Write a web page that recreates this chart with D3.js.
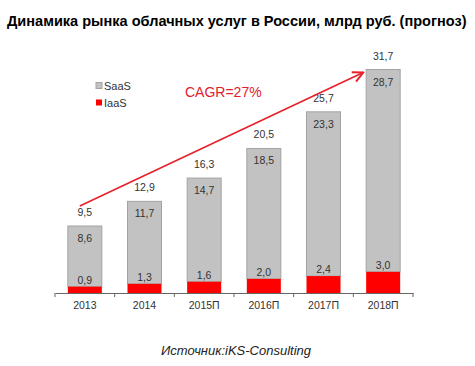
<!DOCTYPE html>
<html><head><meta charset="utf-8">
<script src="https://cdn.jsdelivr.net/npm/d3@7"></script>
<style>body{margin:0;background:#fff}svg{display:block}</style>
</head><body>
<svg id="c" width="475" height="366"></svg>
<script>
const categories = ["2013","2014","2015П","2016П","2017П","2018П"];
const saas = [8.6, 11.7, 14.7, 18.5, 23.3, 28.7];
const iaas = [0.9, 1.3, 1.6, 2.0, 2.4, 3.0];
const totals = [9.5, 12.9, 16.3, 20.5, 25.7, 31.7];
const seriesNames = ["SaaS","IaaS"];
const title = "Динамика рынка облачных услуг в России, млрд руб. (прогноз)";
const source = "Источник:iKS-Consulting";
const cagr = "CAGR=27%";

const fmt = v => d3.format(".1f")(v).replace(".", ",");
const svg = d3.select("#c");
const font = "'Liberation Sans', Arial, sans-serif";
const grey = "#c2c2c2", greyStroke = "#a3a3a3", red = "#ff0000";

const x = d3.scaleBand().domain(categories).range([55, 413]).paddingInner(0.43).paddingOuter(0.215);
const y = d3.scaleLinear().domain([0, 32]).range([293, 67.4]);

const tg = svg.append("g");
const tt = tg.append("text").attr("x", 0).attr("y", 0)
  .attr("font-family", font).attr("font-weight", "bold").attr("font-size", 15.5)
  .attr("fill", "#000").text(title);
const natural = tt.node().getComputedTextLength();
tg.attr("transform", `translate(7,25.5) scale(${460 / natural},1)`);

const g = svg.append("g");
const data = categories.map((c, i) => ({c, s: saas[i], ia: iaas[i], t: totals[i]}));

g.selectAll("rect.s").data(data).join("rect")
  .attr("x", d => x(d.c)).attr("width", x.bandwidth())
  .attr("y", d => y(d.ia + d.s)).attr("height", d => y(d.ia) - y(d.ia + d.s))
  .attr("fill", grey).attr("stroke", greyStroke).attr("stroke-width", 1);
g.selectAll("rect.i").data(data).join("rect")
  .attr("x", d => x(d.c)).attr("width", x.bandwidth())
  .attr("y", d => y(d.ia)).attr("height", d => y(0) - y(d.ia))
  .attr("fill", red);

const lbl = (sel) => sel.attr("text-anchor", "middle").attr("font-family", font)
  .attr("font-size", 10.5).attr("fill", "#333");
g.selectAll("text.t").data(data).join("text").call(lbl)
  .attr("x", d => x(d.c) + x.bandwidth()/2).attr("y", d => y(d.ia + d.s) - 10).text(d => fmt(d.t));
g.selectAll("text.s").data(data).join("text").call(lbl)
  .attr("x", d => x(d.c) + x.bandwidth()/2).attr("y", d => y(d.ia + d.s) + 16).text(d => fmt(d.s));
g.selectAll("text.i").data(data).join("text").call(lbl)
  .attr("x", d => x(d.c) + x.bandwidth()/2).attr("y", d => y(d.ia) - 3).text(d => fmt(d.ia));

const ax = d3.axisBottom(x).tickSize(0).tickPadding(9);
const axg = svg.append("g").attr("transform", `translate(0,${y(0)})`).call(ax);
axg.select(".domain").attr("stroke", "#666");
axg.selectAll("text").attr("font-family", font).attr("font-size", 10.5).attr("fill", "#333");
const bounds = [55].concat(categories.map(c => x(c) + x.bandwidth() + x.step()*x.paddingInner()/2));
bounds[bounds.length-1] = 413;
axg.selectAll("line.b").data(bounds).join("line")
  .attr("x1", d => d).attr("x2", d => d).attr("y1", 0).attr("y2", 4)
  .attr("stroke", "#666");

svg.append("defs").append("marker").attr("id", "ah").attr("viewBox", "0 0 10 10")
  .attr("refX", 9).attr("refY", 5).attr("markerWidth", 8).attr("markerHeight", 8)
  .attr("orient", "auto").append("path").attr("d", "M1,1 L9,5 L1,9")
  .attr("fill", "none").attr("stroke", "#e8202a").attr("stroke-width", 1.6);
const first = data[0], last = data[data.length-1];
svg.append("line")
  .attr("x1", x(first.c) + 12).attr("y1", y(first.t) - 20)
  .attr("x2", x(last.c) - 3).attr("y2", y(last.t) + 3)
  .attr("stroke", "#e8202a").attr("stroke-width", 1.6).attr("marker-end", "url(#ah)");

svg.append("text").attr("x", 185).attr("y", 97).attr("font-family", font)
  .attr("font-size", 14).attr("fill", "#e02030").text(cagr);

const leg = svg.append("g");
const legColors = [grey, red];
seriesNames.forEach((n, i) => {
  const yy = 86 + i * 17;
  leg.append("rect").attr("x", 96).attr("y", yy - 3.5).attr("width", 6).attr("height", 6)
    .attr("fill", legColors[i]).attr("stroke", i === 0 ? greyStroke : "none");
  leg.append("text").attr("x", 104).attr("y", yy + 3.8).attr("font-family", font)
    .attr("font-size", 11).attr("fill", "#333").text(n);
});

svg.append("text").attr("x", 236).attr("y", 355).attr("text-anchor", "middle")
  .attr("font-family", font).attr("font-style", "italic").attr("font-size", 13)
  .attr("fill", "#222").text(source);
</script>
</body></html>
